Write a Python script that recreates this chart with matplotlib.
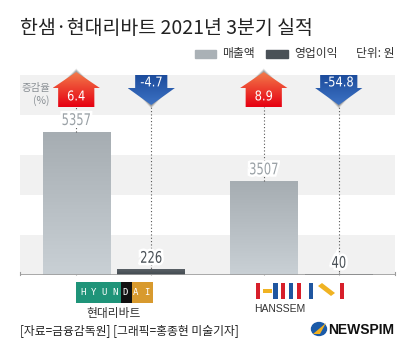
import numpy as np
import matplotlib
matplotlib.use("Agg")
import matplotlib.pyplot as plt
import matplotlib.patches as patches
import matplotlib.patheffects as pe
from matplotlib import font_manager as fm
from matplotlib.colors import LinearSegmentedColormap
from matplotlib.textpath import TextPath
from matplotlib.transforms import Affine2D, ScaledTranslation

# data
companies = ["현대리바트", "한샘"]
revenue = [5357, 3507]        # 매출액
profit = [226, 40]            # 영업이익
rev_change = ["6.4", "8.9"]   # 증감율 (%)
prof_change = ["-4.7", "-54.8"]

KR = "Noto Sans CJK KR"


def pick(fam, fallback):
    try:
        fm.findfont(fm.FontProperties(family=fam), fallback_to_default=False)
        return fam
    except Exception:
        return fallback


ARIAL = pick("Liberation Sans", "DejaVu Sans")

W, H = 414, 357
fig = plt.figure(figsize=(W / 100, H / 100), dpi=100)
fig.patch.set_facecolor("white")


def fx(px):
    return px / W


def fy(py):
    return 1 - py / H


# main axes: bands from y=75px to baseline at 275px, some room above for arrows
ax = fig.add_axes([fx(20), fy(275), fx(395) - fx(20), (275 - 62) / H])
ax.set_facecolor("white")
band = 1500
top = band * 5
for i in range(0, 5, 2):
    ax.axhspan(i * band, (i + 1) * band, color="#f1f1f1", lw=0, zorder=0)

x = np.arange(len(companies))
off, bw = 0.2, 0.36
xr, xp = x - off, x + off

rev_bars = ax.bar(xr, revenue, width=bw, color="#b7bec3", zorder=2)
prof_bars = ax.bar(xp, profit, width=bw, color="#4a5157", zorder=2)


def grad_fill(patch, c_top, c_bot, z):
    cmap = LinearSegmentedColormap.from_list("g", [c_bot, c_top])
    bb = patch.get_bbox()
    g = np.linspace(0, 1, 64).reshape(-1, 1)
    im = ax.imshow(g, extent=(bb.x0, bb.x1, bb.y0, bb.y1), origin="lower",
                   aspect="auto", cmap=cmap, zorder=z, interpolation="bicubic")
    im.set_clip_path(patch)


for b in rev_bars:
    grad_fill(b, "#a6adb2", "#c9d0d5", 2.1)
for b in prof_bars:
    grad_fill(b, "#5d656b", "#41484e", 2.1)


def narrow_text(xd, yd, s, size_px, sx, color, z, outline=False):
    # condensed digits: text path squeezed horizontally
    tp = TextPath((0, 0), s, size=size_px, prop=fm.FontProperties(family="DejaVu Sans"))
    bb = tp.get_extents()
    tr = (Affine2D().translate(-(bb.x0 + bb.x1) / 2, -(bb.y0 + bb.y1) / 2).scale(sx, 1)
          + ScaledTranslation(xd, yd, ax.transData))
    eff = [pe.withStroke(linewidth=3.5, foreground="white")] if outline else None
    p = patches.PathPatch(tp, facecolor=color, edgecolor="none", transform=tr, zorder=z,
                          path_effects=eff)
    ax.add_artist(p)


px_y = 37.5          # data units per pixel (vertical)
px_x = 1 / 186.5     # data units per pixel (horizontal)

# arrows
up_tip, up_head, up_bot = top + 3 * px_y, top - 13 * px_y, top - 32 * px_y
dn_top, dn_head, dn_tip = top, top - 13 * px_y, top - 30 * px_y
hw = 23.5 * px_x


def arrow(c, up, half_body, c_top, c_bot):
    if up:
        pts = [(c - half_body, up_bot), (c + half_body, up_bot), (c + half_body, up_head),
               (c + hw, up_head), (c, up_tip), (c - hw, up_head), (c - half_body, up_head)]
        y0, y1 = up_bot, up_tip
        sh = [(c - hw, up_head), (c, up_tip), (c + hw, up_head)]
        sdir = 1
    else:
        pts = [(c - half_body, dn_top), (c + half_body, dn_top), (c + half_body, dn_head),
               (c + hw, dn_head), (c, dn_tip), (c - hw, dn_head), (c - half_body, dn_head)]
        y0, y1 = dn_tip, dn_top
        sh = [(c - hw, dn_head), (c, dn_tip), (c + hw, dn_head)]
        sdir = -1
    # soft shadow around the head tip
    for k, a in [(3.5, 0.12), (2.5, 0.18), (1.5, 0.25)]:
        s = [(sh[0][0] + 6 * px_x, sh[0][1] + sdir * 0.5 * k * px_y),
             (sh[1][0], sh[1][1] + sdir * k * px_y),
             (sh[2][0] - 6 * px_x, sh[2][1] + sdir * 0.5 * k * px_y)]
        ax.add_patch(patches.Polygon(s, closed=True, color="#3a3a3a", alpha=a, lw=0, zorder=4))
    poly = patches.Polygon(pts, closed=True, facecolor="none", edgecolor="none", zorder=5)
    ax.add_patch(poly)
    cmap = LinearSegmentedColormap.from_list("a", [c_bot, c_top])
    g = np.linspace(0, 1, 64).reshape(-1, 1)
    im = ax.imshow(g, extent=(c - hw, c + hw, y0, y1), origin="lower", aspect="auto",
                   cmap=cmap, zorder=5, interpolation="bicubic")
    im.set_clip_path(poly)


for i in range(len(companies)):
    arrow(xr[i], True, 18 * px_x, "#f27a4a", "#e60012")
    arrow(xp[i], False, (16 if len(prof_change[i]) < 5 else 18.5) * px_x, "#1c4c9c", "#3d72c4")
    narrow_text(xr[i], top - 20.5 * px_y, rev_change[i], 13.5, 0.85, "white", 6)
    narrow_text(xp[i], top - 6.5 * px_y, prof_change[i], 13.5, 0.85, "white", 6)

# dotted guide lines
ax.vlines(xr, revenue, up_bot, colors="#555555", linestyles=(0, (1, 2)), lw=0.8, zorder=3)
ax.vlines(xp, 0, dn_tip, colors="#555555", linestyles=(0, (1, 2)), lw=0.8, zorder=3)

for i in range(len(companies)):
    narrow_text(xr[i], revenue[i] + 13 * px_y, f"{revenue[i]}", 16, 0.72, "#9aa1a6", 6, True)
    narrow_text(xp[i], profit[i] + 12 * px_y, f"{profit[i]}", 16, 0.72, "#4a5157", 6, True)

ax.axhline(0, color="#9c9c9c", lw=1.2, zorder=4)
ax.set_xlim(-0.5, 1.5)
ax.set_ylim(0, top + 13 * px_y)
for s in ["top", "right", "left", "bottom"]:
    ax.spines[s].set_visible(False)
for s in ["left", "right"]:
    ax.spines[s].set_visible(True)
    ax.spines[s].set_bounds(0, 110)
    ax.spines[s].set_color("#9c9c9c")
ax.set_yticks([])
ax.set_xticks(np.concatenate([xr, xp]))
ax.tick_params(axis="x", direction="in", length=2.5, color="#9c9c9c", labelbottom=False)

# side label
fig.text(fx(50), fy(88), "증감율", family=KR, fontsize=7.5, color="#8a9095", ha="right", va="center")
fig.text(fx(50), fy(101), "(%)", family=KR, fontsize=7.5, color="#8a9095", ha="right", va="center")

# title and legend
fig.text(fx(20), fy(28), "한샘·현대리바트 2021년 3분기 실적", family=KR, fontsize=14,
         color="#222222", ha="left", va="center")
fig.add_artist(patches.Rectangle((fx(195), fy(58)), fx(21), 8 / H, color="#aab1b6",
                                 transform=fig.transFigure))
fig.text(fx(222), fy(54), "매출액", family=KR, fontsize=8.5, color="#333333", va="center")
fig.add_artist(patches.Rectangle((fx(266), fy(58)), fx(22), 8 / H, color="#4a5157",
                                 transform=fig.transFigure))
fig.text(fx(294), fy(54), "영업이익", family=KR, fontsize=8.5, color="#333333", va="center")
fig.text(fx(395), fy(54), "단위: 원", family=KR, fontsize=8.5, color="#333333", va="center",
         ha="right")

# HYUNDAI logo
for x0, x1, c in [(76, 121, "#1f9479"), (121, 132, "#111111"), (132, 153, "#d89a2e")]:
    fig.add_artist(patches.Rectangle((fx(x0), fy(303)), fx(x1 - x0), 21 / H, color=c,
                                     lw=0, transform=fig.transFigure))
for k, ch in enumerate("HYUNDAI"):
    fig.text(fx(83 + k * 10.6), fy(292.5), ch, family="DejaVu Sans Mono", fontsize=6.5,
             color="white", ha="center", va="center")
fig.text(fx(114), fy(314), companies[0], family=KR, fontsize=8.5, color="#333333",
         ha="center", va="center")

# HANSSEM logo
red, blue, yel = "#d71f2a", "#1f56a0", "#f0b323"
for x0, c in [(256, red), (273, blue), (281, red), (289, blue), (297, red), (309, blue), (340, red)]:
    fig.add_artist(patches.Rectangle((fx(x0), fy(299)), fx(4.5), 16 / H, color=c, lw=0,
                                     transform=fig.transFigure))
fig.add_artist(patches.Rectangle((fx(263), fy(292.5)), fx(9), 3.5 / H, color=yel, lw=0,
                                 transform=fig.transFigure))
fig.add_artist(patches.Polygon([(fx(318), fy(286)), (fx(322), fy(283)), (fx(335), fy(293)),
                                (fx(331), fy(296))], closed=True, color=yel, lw=0,
                               transform=fig.transFigure))
fig.text(fx(280), fy(308.5), "HANSSEM", family=ARIAL, fontsize=7.5, color="#333333",
         ha="center", va="center")

# footer
fig.text(fx(20), fy(331), "[자료=금융감독원] [그래픽=홍종현 미술기자]", family=KR, fontsize=8.5,
         color="#222222", ha="left", va="center")
fig.add_artist(patches.Circle((fx(319), fy(329)), 7.5 / W, color="#1a5aa8",
                              transform=fig.transFigure))
fig.add_artist(patches.Polygon([(fx(313), fy(334)), (fx(326), fy(323)), (fx(320), fy(334))],
                               closed=True, color="#f2b01e", lw=0, transform=fig.transFigure))
fig.text(fx(328), fy(329.5), "NEWSPIM", family=ARIAL, weight="bold", fontsize=10,
         color="#111111", ha="left", va="center")

fig.savefig("out.png", dpi=100, facecolor="white")
